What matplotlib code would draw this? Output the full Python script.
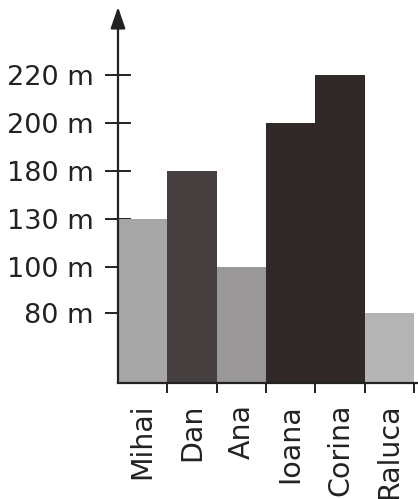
import numpy as np
import matplotlib
matplotlib.use("Agg")
import matplotlib.pyplot as plt

plt.rcParams["font.family"] = "DejaVu Sans"

names = ["Mihai", "Dan", "Ana", "Ioana", "Corina", "Raluca"]
heights = [130, 180, 100, 200, 220, 80]
colors = ["#a6a6a6", "#45403f", "#999797", "#302928", "#302928", "#b4b4b4"]

tick_vals = [80, 100, 130, 180, 200, 220]
tick_labels = ["80 m", "100 m", "130 m", "180 m", "200 m", "220 m"]

# the axis in the picture is not linear: ticks are evenly spaced
scale_vals = [0, 80, 100, 130, 180, 200, 220, 250]
scale_pos = [0, 70, 116, 164, 212, 260, 308, 380]

def fwd(v):
    return np.interp(v, scale_vals, scale_pos)

def inv(p):
    return np.interp(p, scale_pos, scale_vals)

fig = plt.figure(figsize=(4.18, 4.99), dpi=100)
ax = fig.add_axes([118/418, 1 - 383/499, 1 - 118/418, (383 - 7)/499])

x = np.arange(len(names))
ax.bar(x, heights, width=1.0, color=colors, zorder=2)

ax.set_yscale("function", functions=(fwd, inv))
ax.set_ylim(0, inv(376))
ax.set_xlim(-0.5, 5.58)

ax.set_yticks(tick_vals)
ax.set_yticklabels(tick_labels)
ax.yaxis.set_minor_locator(plt.NullLocator())
ax.tick_params(axis="y", direction="inout", length=19, width=1.4,
               color="#222222", labelsize=19.5, pad=8, labelcolor="#222222")

ax.set_xticks(x)
ax.set_xticklabels(names, rotation=90, va="top", ha="center")
ax.set_xticks(x + 0.5, minor=True)
ax.tick_params(axis="x", which="major", length=0, labelsize=20.5, pad=15,
               labelcolor="#222222")
ax.tick_params(axis="x", which="minor", direction="out", length=7,
               width=1.4, color="#222222")
ax.set_axisbelow(True)

for s in ["top", "right", "left"]:
    ax.spines[s].set_visible(False)
ax.spines["bottom"].set_color("#222222")
ax.spines["bottom"].set_linewidth(1.6)
ax.spines["bottom"].set_zorder(3)

ax.annotate("", xy=(0, 1), xytext=(0, 0), xycoords="axes fraction",
            arrowprops=dict(arrowstyle="-|>,head_length=1.3,head_width=0.45",
                            color="#222222", lw=1.6, shrinkA=0, shrinkB=0),
            zorder=4)

fig.savefig("out.png", dpi=100)
